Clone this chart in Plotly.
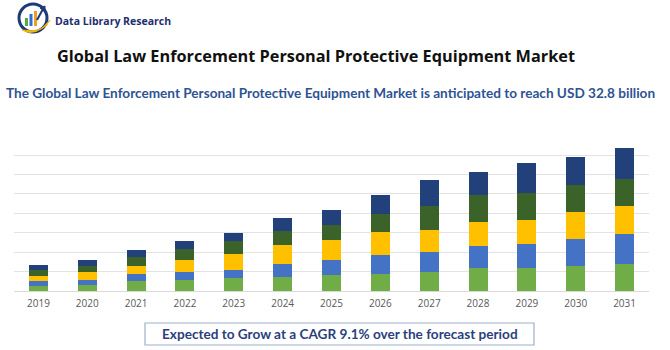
import plotly.graph_objects as go

# ---- data ----
years = ["2019", "2020", "2021", "2022", "2023", "2024", "2025",
         "2026", "2027", "2028", "2029", "2030", "2031"]
seg_light_green = [1.4, 1.5, 2.7, 2.9, 3.4, 3.5, 4.0, 4.5, 4.9, 5.8, 6.0, 6.4, 7.0]
seg_blue        = [1.3, 1.4, 1.7, 2.0, 2.1, 3.4, 3.9, 4.7, 5.1, 5.9, 6.1, 7.0, 7.8]
seg_yellow      = [1.1, 2.0, 2.0, 3.0, 4.0, 4.9, 5.1, 6.1, 5.6, 6.1, 6.3, 7.0, 7.1]
seg_dark_green  = [1.6, 1.5, 2.3, 2.8, 3.3, 3.6, 3.9, 4.6, 6.3, 6.9, 6.9, 7.0, 7.0]
seg_navy        = [1.4, 1.5, 1.8, 2.2, 2.1, 3.4, 3.9, 4.7, 6.7, 5.9, 7.7, 7.0, 7.8]

series = [
    ("Segment 1", seg_light_green, "#70AD47"),
    ("Segment 2", seg_blue, "#4472C4"),
    ("Segment 3", seg_yellow, "#FFC000"),
    ("Segment 4", seg_dark_green, "#3B6329"),
    ("Segment 5", seg_navy, "#22407A"),
]

title_text = "Global Law Enforcement Personal Protective Equipment Market"
subtitle_text = ("The Global Law Enforcement Personal Protective Equipment Market "
                 "is anticipated to reach USD 32.8 billion")
cagr_text = "Expected to Grow at a CAGR 9.1% over the forecast period"
logo_text = "Data Library Research"

# ---- layout geometry ----
W, H = 670, 350
ML, MR, MT, MB = 14, 21, 135, 59
PW, PH = W - ML - MR, H - MT - MB


def px(x):
    return (x - ML) / PW


def py(y):
    return (H - MB - y) / PH


fig = go.Figure()
for name, vals, col in series:
    fig.add_trace(go.Bar(x=years, y=vals, name=name, marker=dict(color=col, line=dict(width=0)),
                         showlegend=False))

annotations = [
    dict(text="<b>" + title_text + "</b>", x=px(316), y=py(56), xref="paper", yref="paper",
         xanchor="center", yanchor="middle", showarrow=False,
         font=dict(family="Open Sans", size=16.3, color="#111111")),
    dict(text="<b>" + subtitle_text + "</b>", x=px(330), y=py(93), xref="paper", yref="paper",
         xanchor="center", yanchor="middle", showarrow=False,
         font=dict(family="Lato", size=13.6, color="#2E5395")),
    dict(text="<b>" + cagr_text + "</b>", x=px(340), y=py(334), xref="paper", yref="paper",
         xanchor="center", yanchor="middle", showarrow=False,
         font=dict(family="Lato", size=13.6, color="#2B3F7E")),
    dict(text="<b>" + logo_text + "</b>", x=px(53), y=py(21), xref="paper", yref="paper",
         xanchor="left", yanchor="middle", showarrow=False,
         font=dict(family="Open Sans", size=10.5, color="#1F2F6E")),
]

shapes = [
    # CAGR box
    dict(type="rect", xref="paper", yref="paper", x0=px(145), x1=px(534), y0=py(323), y1=py(345),
         line=dict(color="#9DB0CC", width=1.2), fillcolor="rgba(0,0,0,0)"),
    # logo ring (navy)
    dict(type="circle", xref="paper", yref="paper", x0=px(19), x1=px(47), y0=py(4), y1=py(32),
         line=dict(color="#1F3A7A", width=3), fillcolor="rgba(0,0,0,0)"),
    # logo yellow swoosh
    dict(type="path", xref="paper", yref="paper",
         path=f"M {px(22)} {py(30)} Q {px(36)} {py(38)} {px(50)} {py(20)} Q {px(44)} {py(34)} {px(22)} {py(30)} Z",
         line=dict(color="#F5B800", width=1), fillcolor="#F5B800"),
    # logo bars
    dict(type="rect", xref="paper", yref="paper", x0=px(25), x1=px(28), y0=py(26), y1=py(18),
         line=dict(width=0), fillcolor="#5BAA3C"),
    dict(type="rect", xref="paper", yref="paper", x0=px(29.5), x1=px(32.5), y0=py(26), y1=py(14),
         line=dict(width=0), fillcolor="#2E6FD0"),
    dict(type="rect", xref="paper", yref="paper", x0=px(34), x1=px(37), y0=py(26), y1=py(11),
         line=dict(width=0), fillcolor="#F0A020"),
    # arrow
    dict(type="line", xref="paper", yref="paper", x0=px(37), y0=py(20), x1=px(43), y1=py(9),
         line=dict(color="#1F3A7A", width=2)),
    dict(type="path", xref="paper", yref="paper",
         path=f"M {px(40)} {py(8)} L {px(45)} {py(6)} L {px(45)} {py(12)} Z",
         line=dict(color="#1F3A7A", width=1), fillcolor="#1F3A7A"),
]

fig.update_layout(
    width=W, height=H, barmode="stack", bargap=0.61,
    margin=dict(l=ML, r=MR, t=MT, b=MB, pad=0),
    paper_bgcolor="white", plot_bgcolor="white",
    annotations=annotations, shapes=shapes,
    xaxis=dict(showgrid=False, showline=False, ticks="", tickfont=dict(family="Open Sans", size=10, color="#595959"),
               ticklabelstandoff=5),
    yaxis=dict(range=[0, 40.15], dtick=5, showgrid=True, gridcolor="#E3E3E3", gridwidth=1,
               zeroline=True, zerolinecolor="#D9D9D9", zerolinewidth=1,
               showticklabels=False, ticks="", showline=False),
)

fig.write_html("out.html")
